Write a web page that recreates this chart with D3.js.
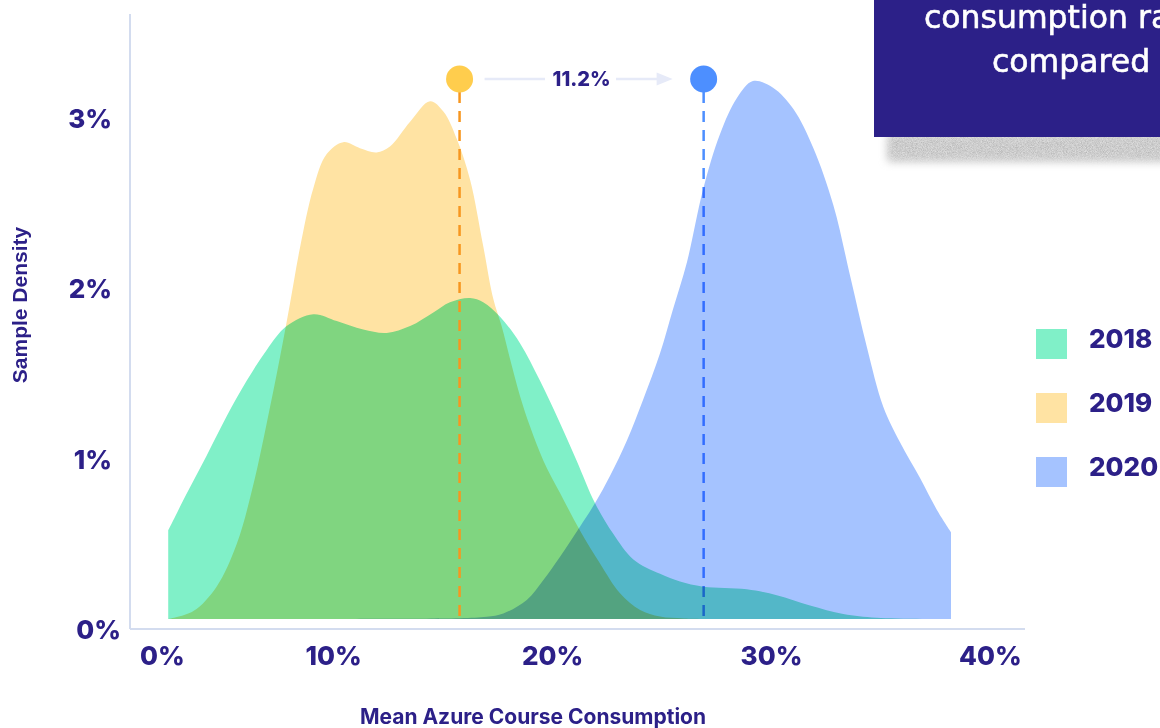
<!DOCTYPE html>
<html>
<head>
<meta charset="utf-8">
<script src="https://cdn.jsdelivr.net/npm/d3@7"></script>
<style>
	html, body { margin: 0; padding: 0; background: #ffffff; }
	svg { display: block; font-family: "Inter", "Noto Sans", sans-serif; }
</style>
</head>
<body>
<svg id="chart" width="1160" height="728"></svg>
<script>
// Density curves of mean Azure course consumption.
// Each point: [consumption %, sample density %]
const years = ["2018", "2019", "2020"];

const density2018 = [
	[2.44, 0.52], [3.28, 0.735], [4.20, 0.96], [5.11, 1.19], [6.03, 1.40], [6.94, 1.58],
	[7.85, 1.72], [9.07, 1.79], [10.14, 1.75], [11.35, 1.70], [12.42, 1.68], [13.49, 1.72],
	[14.55, 1.80], [15.31, 1.86], [16.23, 1.885], [16.83, 1.86], [17.60, 1.775], [18.51, 1.62],
	[19.42, 1.40], [20.34, 1.15], [21.10, 0.93], [21.94, 0.68], [22.77, 0.50], [23.69, 0.35],
	[24.91, 0.265], [25.82, 0.22], [26.88, 0.19], [28.87, 0.175], [30.24, 0.14], [31.76, 0.08],
	[33.28, 0.03], [34.81, 0.008], [38.3, 0.0]
];

const density2019 = [
	[2.44, 0.0], [3.59, 0.047], [4.65, 0.19], [5.57, 0.44], [6.33, 0.79], [6.94, 1.15],
	[7.55, 1.54], [8.00, 1.85], [8.46, 2.18], [9.07, 2.53], [9.68, 2.73], [10.44, 2.80],
	[11.20, 2.765], [11.96, 2.74], [12.57, 2.775], [13.49, 2.92], [14.40, 3.04], [15.01, 2.98],
	[15.62, 2.82], [16.23, 2.58], [16.83, 2.19], [17.29, 1.88], [17.67, 1.72], [18.05, 1.53],
	[18.51, 1.31], [18.97, 1.13], [19.58, 0.93], [20.34, 0.74], [21.25, 0.52], [22.16, 0.327],
	[23.08, 0.151], [24.00, 0.053], [24.91, 0.014], [26.00, 0.003], [27.65, 0.0]
];

const density2020 = [
	[9.5, 0.0], [12.0, 0.002], [15.77, 0.005], [16.99, 0.013], [17.75, 0.033], [18.82, 0.112],
	[19.58, 0.229], [20.34, 0.366], [21.25, 0.542], [21.94, 0.681], [22.62, 0.84], [23.40, 1.05],
	[24.13, 1.286], [24.90, 1.557], [25.49, 1.815], [26.14, 2.097], [26.87, 2.52], [27.65, 2.848],
	[28.42, 3.059], [29.15, 3.159], [30.07, 3.12], [31.0, 2.995], [31.91, 2.766], [32.82, 2.433],
	[33.59, 2.016], [34.35, 1.60], [35.11, 1.245], [35.87, 1.038], [36.78, 0.829], [37.55, 0.642],
	[38.2, 0.51]
];

const seriesData = [density2018, density2019, density2020];

// Mean consumption markers (2019 -> 2020) and the labelled gap between them
const meanYears = ["2019", "2020"];
const meanValues = [15.75, 26.9];
const meanGapLabel = "11.2%";

const xTicks = [0, 10, 20, 30, 40];
const yTicks = [0, 1, 2, 3];

const boxLines = ["consumption rate grew", "compared to 2019"];

const COLORS = {
	navy:   "#2c2088",
	axis:   "#d3dcef",
	arrow:  "#e6eaf8",
	area:   { "2018": "#80f0c8", "2019": "#ffe3a3", "2020": "#a5c3ff" },
	dot:    { "2019": "#ffcd4d", "2020": "#4d8fff" },
	dash:   { "2019": "#f7961f", "2020": "#4d8fff" },
};

const svg = d3.select("#chart");

const x = d3.scaleLinear().domain([0, 40]).range([114.8, 990.4]);
const y = d3.scaleLinear().domain([0, 3.5]).range([619, 23]);

const axisX = 130;     // y axis line position
const axisY = 629;     // x axis line position
const markerY = 79;    // row of mean markers above the curves

// --- callout box in the top right corner (cut off by the frame) ---
const defs = svg.append("defs");
const soft = defs.append("filter").attr("id", "shadow")
	.attr("x", "-10%").attr("y", "-60%").attr("width", "120%").attr("height", "220%");
soft.append("feGaussianBlur").attr("in", "SourceGraphic").attr("stdDeviation", 4).attr("result", "blur");
soft.append("feTurbulence").attr("type", "fractalNoise").attr("baseFrequency", 1.2)
	.attr("numOctaves", 2).attr("result", "noise");
soft.append("feColorMatrix").attr("in", "noise").attr("type", "matrix")
	.attr("values", "0 0 0 0 1  0 0 0 0 1  0 0 0 0 1  0 0 0 0.7 0").attr("result", "grain");
soft.append("feComposite").attr("in", "grain").attr("in2", "blur").attr("operator", "in").attr("result", "grainIn");
soft.append("feMerge").call(m => {
	m.append("feMergeNode").attr("in", "blur");
	m.append("feMergeNode").attr("in", "grainIn");
});

svg.append("rect")
	.attr("x", 888).attr("y", 134).attr("width", 300).attr("height", 27)
	.attr("fill", "#a9a9a9").attr("filter", "url(#shadow)");

svg.append("rect")
	.attr("x", 874).attr("y", -10).attr("width", 320).attr("height", 147)
	.attr("fill", COLORS.navy);

svg.append("g").selectAll("text")
	.data(boxLines)
	.join("text")
	.attr("x", (d, i) => i === 0 ? 924 : 992)
	.attr("y", (d, i) => 28 + i * 44)
	.attr("fill", "#ffffff")
	.attr("stroke", "#ffffff")
	.attr("stroke-width", 0.6)
	.attr("font-family", "'DejaVu Sans', sans-serif")
	.attr("font-size", 31.5)
	.text(d => d);

// --- axes (plain lines, labels without tick marks) ---
svg.append("line")
	.attr("x1", axisX).attr("x2", axisX).attr("y1", 14).attr("y2", axisY)
	.attr("stroke", COLORS.axis).attr("stroke-width", 2);
svg.append("line")
	.attr("x1", axisX).attr("x2", 1025).attr("y1", axisY).attr("y2", axisY)
	.attr("stroke", COLORS.axis).attr("stroke-width", 2);

// 0% labels sit in the corner, the rest follow the scales
svg.append("g").selectAll("text")
	.data(xTicks)
	.join("text")
	.attr("x", d => d === 0 ? axisX + 10 : x(d))
	.attr("y", 665)
	.attr("text-anchor", d => d === 0 ? "start" : "middle")
	.attr("fill", COLORS.navy)
	.attr("font-size", 26)
	.attr("font-weight", 800)
	.text(d => d + "%");

svg.append("g").selectAll("text")
	.data(yTicks)
	.join("text")
	.attr("x", d => d === 0 ? 121 : 112)
	.attr("y", d => y(d) + 20)
	.attr("text-anchor", "end")
	.attr("fill", COLORS.navy)
	.attr("font-size", 26)
	.attr("font-weight", 800)
	.text(d => d + "%");

svg.append("text")
	.attr("x", 533).attr("y", 724)
	.attr("text-anchor", "middle")
	.attr("fill", COLORS.navy)
	.attr("font-size", 21)
	.attr("font-weight", 700)
	.text("Mean Azure Course Consumption");

svg.append("text")
	.attr("transform", "translate(27,305) rotate(-90)")
	.attr("text-anchor", "middle")
	.attr("fill", COLORS.navy)
	.attr("font-family", "'Liberation Sans', Arial, sans-serif")
	.attr("font-size", 21)
	.attr("font-weight", 700)
	.text("Sample Density");

// mean line: the 2020 one sits under the areas (tinted by the blend), 2019 on top
const meanLine = (g, i) => g.append("line")
	.attr("x1", x(meanValues[i])).attr("x2", x(meanValues[i]))
	.attr("y1", markerY + 13).attr("y2", y(0))
	.attr("stroke", COLORS.dash[meanYears[i]])
	.attr("stroke-width", 2.5)
	.attr("stroke-dasharray", "11,8");

const under = svg.append("g");
meanLine(under, 1);

// --- density areas, multiplied so overlaps darken ---
const area = d3.area()
	.x(d => x(d[0]))
	.y0(y(0))
	.y1(d => y(Math.max(0, d[1])))
	.curve(d3.curveCatmullRom.alpha(0.5));

svg.append("g").selectAll("path")
	.data(seriesData)
	.join("path")
	.attr("d", area)
	.attr("fill", (d, i) => COLORS.area[years[i]])
	.style("mix-blend-mode", "multiply");

meanLine(svg.append("g"), 0);

// --- mean markers and the gap arrow ---
const [m0, m1] = meanValues.map(x);
const arrow = svg.append("g").attr("fill", "none").attr("stroke", COLORS.arrow).attr("stroke-width", 2.5);
arrow.append("line").attr("x1", m0 + 25).attr("x2", 545).attr("y1", markerY).attr("y2", markerY);
arrow.append("line").attr("x1", 616).attr("x2", m1 - 44).attr("y1", markerY).attr("y2", markerY);
svg.append("path")
	.attr("d", `M${m1 - 47},${markerY - 6.5}L${m1 - 31},${markerY}L${m1 - 47},${markerY + 6.5}Z`)
	.attr("fill", COLORS.arrow);

svg.append("text")
	.attr("x", (m0 + m1) / 2) .attr("y", markerY + 7)
	.attr("text-anchor", "middle")
	.attr("fill", COLORS.navy)
	.attr("font-size", 20)
	.attr("font-weight", 800)
	.text(meanGapLabel);

svg.append("g").selectAll("circle")
	.data(meanValues)
	.join("circle")
	.attr("cx", d => x(d)).attr("cy", markerY)
	.attr("r", 13.5)
	.attr("fill", (d, i) => COLORS.dot[meanYears[i]]);

// --- legend ---
const legend = svg.append("g").selectAll("g")
	.data(years)
	.join("g")
	.attr("transform", (d, i) => `translate(1036,${329 + i * 64})`);

legend.append("rect")
	.attr("width", 31).attr("height", 30)
	.attr("fill", d => COLORS.area[d]);

legend.append("text")
	.attr("x", 53).attr("y", 19)
	.attr("fill", COLORS.navy)
	.attr("font-size", 26)
	.attr("font-weight", 800)
	.text(d => d);
</script>
</body>
</html>
